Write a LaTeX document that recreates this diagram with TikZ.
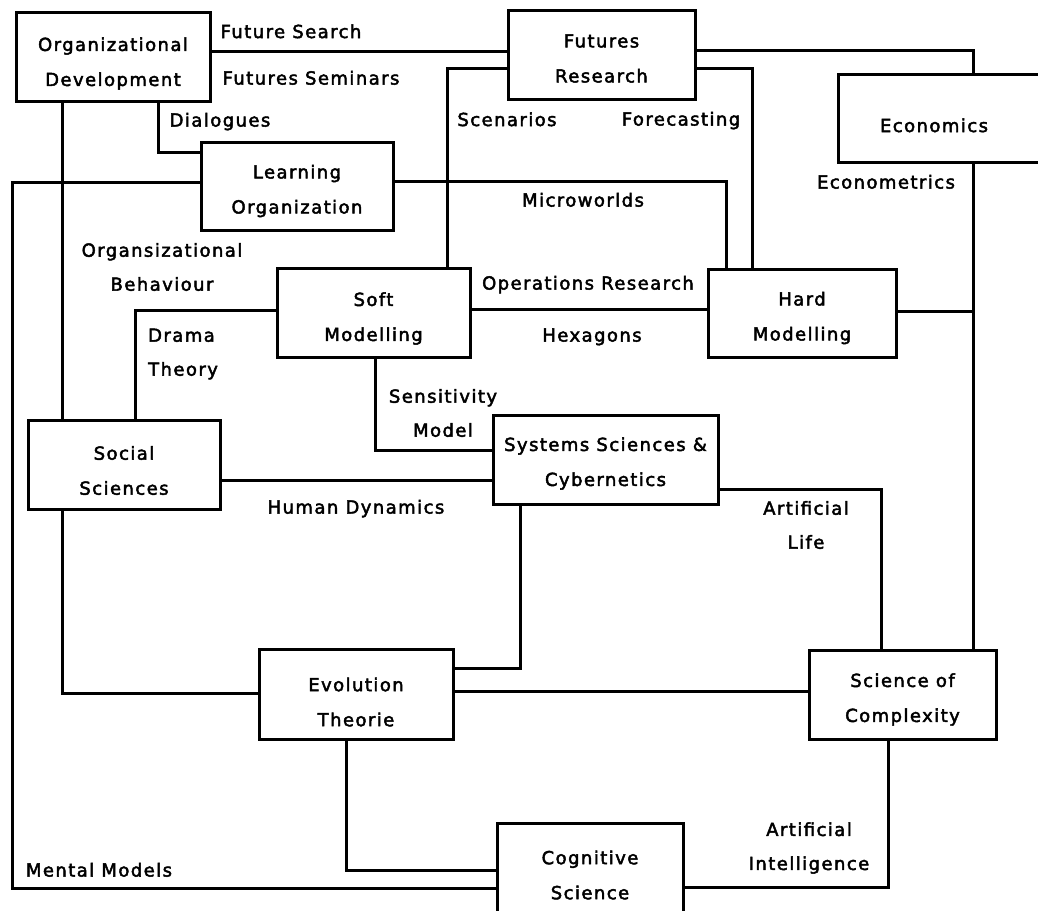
\documentclass[tikz,border=0pt]{standalone}
\usepackage{fontspec}
\newfontfamily\diagfont{DejaVu Sans}[LetterSpace=8, FakeBold=2.5]
\begin{document}
\begin{tikzpicture}[x=1pt,y=-1pt,
  every node/.style={font=\diagfont\fontsize{18}{35}\selectfont},
  topic/.style={draw, line width=3pt, inner sep=0pt},
  boxtext/.style={inner sep=0pt, align=center},
  lbl/.style={inner sep=0pt, text height=13.1pt, text depth=0pt},
  lbl2/.style={inner sep=0pt, align=center, font=\diagfont\fontsize{18}{34}\selectfont},
  link/.style={line width=3pt}]
\useasboundingbox (0,0) rectangle (1038,910);
\clip (0,0) rectangle (1038,910);

% topic boxes, each with its title
\node[topic, minimum width=194pt, minimum height=89pt,
  label={[boxtext, yshift=-7pt]center:Organizational\\Development}] (od) at (113,56.5) {};
\node[topic, minimum width=187pt, minimum height=89pt,
  label={[boxtext, yshift=-4pt]center:Futures\\Research}] (fr) at (601.5,54.5) {};
\node[topic, minimum width=208pt, minimum height=88pt,
  label={[lbl, xshift=-8pt, yshift=-7.5pt]center:Economics}] (eco) at (942,118) {};
\node[topic, minimum width=192pt, minimum height=88pt,
  label={[boxtext, yshift=-5pt]center:Learning\\Organization}] (lo) at (297,186) {};
\node[topic, minimum width=193pt, minimum height=89pt,
  label={[boxtext, yshift=-6pt]center:Soft\\Modelling}] (sm) at (373.5,312.5) {};
\node[topic, minimum width=188pt, minimum height=88pt,
  label={[boxtext, yshift=-5pt]center:Hard\\Modelling}] (hm) at (802,313) {};
\node[topic, minimum width=192pt, minimum height=89pt,
  label={[boxtext, yshift=-6pt]center:Social\\Sciences}] (ss) at (124,464.5) {};
\node[topic, minimum width=225pt, minimum height=89pt,
  label={[boxtext, yshift=-4pt]center:Systems Sciences \&\\Cybernetics}] (ssc) at (605.5,459.5) {};
\node[topic, minimum width=194pt, minimum height=90pt,
  label={[boxtext, yshift=-8pt]center:Evolution\\Theorie}] (et) at (356,694) {};
\node[topic, minimum width=187pt, minimum height=89pt,
  label={[boxtext, yshift=-5pt]center:Science of\\Complexity}] (soc) at (902.5,694.5) {};
\node[topic, minimum width=186pt, minimum height=90pt,
  label={[boxtext, yshift=-7pt]center:Cognitive\\Science}] (cs) at (590,868) {};

% junction on the economics line
\coordinate (econj) at (973,311);

% connections
\draw[link] (od.east |- 0,51) -- (fr.west |- 0,51);
\draw[link] (sm.north -| 447,0) |- (fr.west |- 0,68);
\draw[link] (fr.east |- 0,50) -| (eco.north -| 973,0);
\draw[link] (fr.east |- 0,68) -| (hm.north -| 752,0);
\draw[link] (lo.east |- 0,181) -| (hm.north -| 726,0);
\draw[link] (eco.south -| 973,0) -- (soc.north -| 973,0);
\draw[link] (hm.east |- econj) -- (econj);
\draw[link] (od.south -| 62,0) -- (ss.north -| 62,0);
\draw[link] (od.south -| 158,0) |- (lo.west |- 0,152);
\draw[link] (lo.west |- 0,182) -| (12,500) |- (cs.west |- 0,888);
\draw[link] (sm.west |- 0,310) -| (ss.north -| 135,0);
\draw[link] (sm.east |- 0,309) -- (hm.west |- 0,309);
\draw[link] (sm.south -| 375,0) |- (ssc.west |- 0,450);
\draw[link] (ss.east |- 0,480) -- (ssc.west |- 0,480);
\draw[link] (ssc.south -| 520,0) |- (et.east |- 0,668);
\draw[link] (ssc.east |- 0,489) -| (soc.north -| 881,0);
\draw[link] (ss.south -| 62,0) |- (et.west |- 0,693);
\draw[link] (et.east |- 0,691) -- (soc.west |- 0,691);
\draw[link] (et.south -| 346,0) |- (cs.west |- 0,870);
\draw[link] (soc.south -| 888,0) |- (cs.east |- 0,887);

% connection labels
\node[lbl] (l1)  at (291,31.5) {Future Search};
\node[lbl] (l2)  at (311,78)   {Futures Seminars};
\node[lbl] (l3)  at (220,120)  {Dialogues};
\node[lbl] (l4)  at (507,119.5) {Scenarios};
\node[lbl] (l5)  at (681,119)  {Forecasting};
\node[lbl] (l6)  at (886,182)  {Econometrics};
\node[lbl] (l7)  at (583,200)  {Microworlds};
\node[lbl2] (l8) at (162,267)  {Organsizational\\Behaviour};
\node[lbl2, align=left, anchor=west] (l9) at (148,354) {Drama\\Theory};
\node[lbl2] (l10) at (443,413) {Sensitivity\\Model};
\node[lbl] (l11) at (588,283)  {Operations Research};
\node[lbl] (l12) at (592,335)  {Hexagons};
\node[lbl] (l13) at (356,507)  {Human Dynamics};
\node[lbl2] (l14) at (806,525) {Artificial\\Life};
\node[lbl2] (l15) at (809,848) {Artificial\\Intelligence};
\node[lbl] (l16) at (99,870)   {Mental Models};
\end{tikzpicture}
\end{document}
